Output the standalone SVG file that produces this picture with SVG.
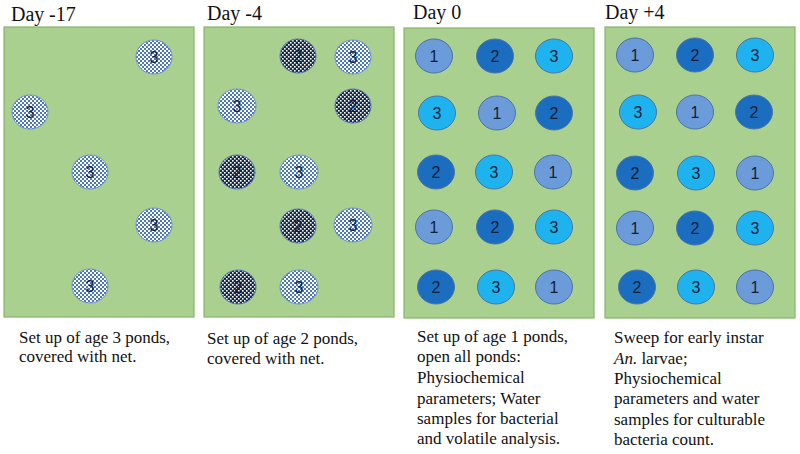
<svg xmlns="http://www.w3.org/2000/svg" width="800" height="454" viewBox="0 0 800 454">
<defs>
<pattern id="chkL" patternUnits="userSpaceOnUse" width="4" height="4">
<rect width="4" height="4" fill="#ffffff"/>
<rect x="0" y="0" width="2" height="2" fill="#4a78c4"/>
<rect x="2" y="2" width="2" height="2" fill="#4a78c4"/>
</pattern>
<pattern id="chkD" patternUnits="userSpaceOnUse" width="4" height="4">
<rect width="4" height="4" fill="#13285a"/>
<rect x="0" y="0" width="1.6" height="1.6" fill="#ffffff"/>
<rect x="2" y="2" width="1.6" height="1.6" fill="#ffffff"/>
</pattern>
</defs>
<style>
.bg{fill:#ffffff}
.panel{fill:#a9d08e;stroke:#86b56a;stroke-width:1.2}
.title{font-family:"Liberation Serif","Times New Roman",serif;font-size:20px;fill:#111}
.cap{font-family:"Liberation Serif","Times New Roman",serif;font-size:17px;fill:#111}
.pond{stroke:#4d74a8;stroke-width:1}
.p3{fill:url(#chkL);stroke:#6f94c8}
.p2{fill:url(#chkD);stroke:#5478aa}
.c1{fill:#6b9bd8}
.c2{fill:#1b6ebf}
.c3{fill:#1eb3ee}
.num{font-family:"Liberation Sans",Arial,sans-serif;font-size:16px;fill:#111d3a;text-anchor:middle;dominant-baseline:central}
</style>
<rect class="bg" width="800" height="454"/>
<g id="connectors"/>

<g id="panel-day-17">
<text class="title" x="11" y="21">Day<tspan x="49">-17</tspan></text>
<rect class="panel" x="4" y="27" width="190" height="290"/>
<g id="p1-ponds">
<ellipse class="pond p3" cx="154" cy="57" rx="18" ry="17"/><text class="num" x="154" y="57">3</text>
<ellipse class="pond p3" cx="30" cy="112" rx="18" ry="17"/><text class="num" x="30" y="112">3</text>
<ellipse class="pond p3" cx="90" cy="172" rx="18" ry="17"/><text class="num" x="90" y="172">3</text>
<ellipse class="pond p3" cx="154" cy="225" rx="18" ry="17"/><text class="num" x="154" y="225">3</text>
<ellipse class="pond p3" cx="90" cy="286" rx="18" ry="17"/><text class="num" x="90" y="286">3</text>
</g>
<text class="cap" x="19" y="343">Set up of age 3 ponds,<tspan x="19" y="362">covered with net.</tspan></text>
</g>

<g id="panel-day-4">
<text class="title" x="207" y="20">Day -4</text>
<rect class="panel" x="204" y="27" width="190" height="290"/>
<g id="p2-ponds">
<ellipse class="pond p2" cx="298" cy="56" rx="18" ry="17"/><text class="num" x="298" y="56">2</text>
<ellipse class="pond p3" cx="353" cy="57" rx="18" ry="17"/><text class="num" x="353" y="57">3</text>
<ellipse class="pond p3" cx="237" cy="106" rx="19" ry="17"/><text class="num" x="237" y="106">3</text>
<ellipse class="pond p2" cx="353" cy="106" rx="18" ry="17"/><text class="num" x="353" y="106">2</text>
<ellipse class="pond p2" cx="237" cy="172" rx="18" ry="17"/><text class="num" x="237" y="172">2</text>
<ellipse class="pond p3" cx="299" cy="172" rx="19" ry="17"/><text class="num" x="299" y="172">3</text>
<ellipse class="pond p2" cx="298" cy="226" rx="18" ry="17"/><text class="num" x="298" y="226">2</text>
<ellipse class="pond p3" cx="353" cy="225" rx="19" ry="17"/><text class="num" x="353" y="225">3</text>
<ellipse class="pond p2" cx="238" cy="287" rx="18" ry="17"/><text class="num" x="238" y="287">2</text>
<ellipse class="pond p3" cx="299" cy="287" rx="19" ry="17"/><text class="num" x="299" y="287">3</text>
</g>
<text class="cap" x="207" y="344">Set up of age 2 ponds,<tspan x="207" y="364">covered with net.</tspan></text>
</g>

<g id="panel-day0">
<text class="title" x="413" y="19">Day 0</text>
<rect class="panel" x="404" y="28" width="190" height="290"/>
<g id="p3-ponds">
<ellipse class="pond c1" cx="434" cy="56" rx="18.5" ry="17"/><text class="num" x="434" y="56">1</text>
<ellipse class="pond c2" cx="495" cy="56" rx="18.5" ry="17"/><text class="num" x="495" y="56">2</text>
<ellipse class="pond c3" cx="554" cy="56" rx="18.5" ry="17"/><text class="num" x="554" y="56">3</text>
<ellipse class="pond c3" cx="437" cy="113" rx="18.5" ry="17"/><text class="num" x="437" y="113">3</text>
<ellipse class="pond c1" cx="497" cy="113" rx="18.5" ry="17"/><text class="num" x="497" y="113">1</text>
<ellipse class="pond c2" cx="554" cy="113" rx="18.5" ry="17"/><text class="num" x="554" y="113">2</text>
<ellipse class="pond c2" cx="436" cy="172" rx="18.5" ry="17"/><text class="num" x="436" y="172">2</text>
<ellipse class="pond c3" cx="494" cy="172" rx="18.5" ry="17"/><text class="num" x="494" y="172">3</text>
<ellipse class="pond c1" cx="553" cy="172" rx="18.5" ry="17"/><text class="num" x="553" y="172">1</text>
<ellipse class="pond c1" cx="434" cy="227" rx="18.5" ry="17"/><text class="num" x="434" y="227">1</text>
<ellipse class="pond c2" cx="495" cy="227" rx="18.5" ry="17"/><text class="num" x="495" y="227">2</text>
<ellipse class="pond c3" cx="554" cy="227" rx="18.5" ry="17"/><text class="num" x="554" y="227">3</text>
<ellipse class="pond c2" cx="436" cy="287" rx="18.5" ry="17"/><text class="num" x="436" y="287">2</text>
<ellipse class="pond c3" cx="496" cy="287" rx="18.5" ry="17"/><text class="num" x="496" y="287">3</text>
<ellipse class="pond c1" cx="554" cy="287" rx="18.5" ry="17"/><text class="num" x="554" y="287">1</text>
</g>
<text class="cap" x="417" y="342">Set up of age 1 ponds,<tspan x="417" y="362">open all ponds:</tspan><tspan x="417" y="383">Physiochemical</tspan><tspan x="417" y="404">parameters; Water</tspan><tspan x="417" y="424">samples for bacterial</tspan><tspan x="417" y="444">and volatile  analysis.</tspan></text>
</g>

<g id="panel-day+4">
<text class="title" x="605" y="19">Day +4</text>
<rect class="panel" x="605" y="27" width="190" height="291"/>
<g id="p4-ponds">
<ellipse class="pond c1" cx="635" cy="55" rx="18.5" ry="17"/><text class="num" x="635" y="55">1</text>
<ellipse class="pond c2" cx="695" cy="55" rx="18.5" ry="17"/><text class="num" x="695" y="55">2</text>
<ellipse class="pond c3" cx="755" cy="55" rx="18.5" ry="17"/><text class="num" x="755" y="55">3</text>
<ellipse class="pond c3" cx="638" cy="112" rx="18.5" ry="17"/><text class="num" x="638" y="112">3</text>
<ellipse class="pond c1" cx="695" cy="112" rx="18.5" ry="17"/><text class="num" x="695" y="112">1</text>
<ellipse class="pond c2" cx="754" cy="112" rx="18.5" ry="17"/><text class="num" x="754" y="112">2</text>
<ellipse class="pond c2" cx="635" cy="173" rx="18.5" ry="17"/><text class="num" x="635" y="173">2</text>
<ellipse class="pond c3" cx="696" cy="173" rx="18.5" ry="17"/><text class="num" x="696" y="173">3</text>
<ellipse class="pond c1" cx="755" cy="173" rx="18.5" ry="17"/><text class="num" x="755" y="173">1</text>
<ellipse class="pond c1" cx="635" cy="228" rx="18.5" ry="17"/><text class="num" x="635" y="228">1</text>
<ellipse class="pond c2" cx="695" cy="228" rx="18.5" ry="17"/><text class="num" x="695" y="228">2</text>
<ellipse class="pond c3" cx="755" cy="228" rx="18.5" ry="17"/><text class="num" x="755" y="228">3</text>
<ellipse class="pond c2" cx="637" cy="287" rx="18.5" ry="17"/><text class="num" x="637" y="287">2</text>
<ellipse class="pond c3" cx="696" cy="287" rx="18.5" ry="17"/><text class="num" x="696" y="287">3</text>
<ellipse class="pond c1" cx="755" cy="287" rx="18.5" ry="17"/><text class="num" x="755" y="287">1</text>
</g>
<text class="cap" x="614" y="343">Sweep for early instar<tspan x="614" y="364"><tspan font-style="italic">An.</tspan> larvae;</tspan><tspan x="614" y="384">Physiochemical</tspan><tspan x="614" y="404">parameters and water</tspan><tspan x="614" y="425">samples for culturable</tspan><tspan x="614" y="445">bacteria count.</tspan></text>
</g>
</svg>
